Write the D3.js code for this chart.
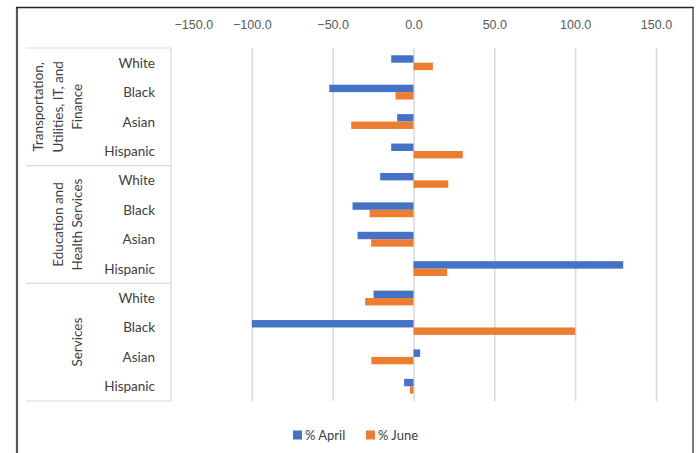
<!DOCTYPE html>
<html>
<head>
<meta charset="utf-8">
<script src="https://cdn.jsdelivr.net/npm/d3@7"></script>
<style>
  html, body { margin: 0; padding: 0; background: #fff; }
  svg { display: block; font-family: Lato, "Open Sans", sans-serif; }
</style>
</head>
<body>
<svg id="chart" width="697" height="453"></svg>
<script>
// Industry groups (each spans four race/ethnicity rows)
const industries = [
  ["Transportation,", "Utilities, IT, and", "Finance"],
  ["Education and", "Health Services"],
  ["Services"]
];
const races = ["White", "Black", "Asian", "Hispanic"];
const seriesNames = ["% April", "% June"];
// Percent change values, row order: industry by industry, races within
const aprilValues = [-13.8, -52.1, -10.1, -13.8, -20.6, -37.7, -34.6, 129.7, -24.7, -100.0, 4.1, -5.8];
const juneValues  = [12.0, -11.1, -38.5, 30.5, 21.5, -27.2, -26.2, 20.8, -29.9, 100.0, -26.0, -2.2];
const xTicks = [-150, -100, -50, 0, 50, 100, 150];

const colors = { "% April": "#4472C4", "% June": "#ED7D31" };

const svg = d3.select("#chart");
const W = 697, H = 453;

const plotLeft = 171, plotRight = 656, plotTop = 48, plotBottom = 401;
const catLeft = 26;

const rows = [];
industries.forEach((ind, gi) => {
  races.forEach((r, ri) => {
    const i = gi * races.length + ri;
    rows.push({ key: gi + "-" + r, industry: gi, race: r, april: aprilValues[i], june: juneValues[i] });
  });
});

const x = d3.scaleLinear().domain([-150, 150]).range([plotLeft, plotRight]);
const y = d3.scaleBand().domain(rows.map(d => d.key)).range([plotTop, plotBottom]).padding(0);
const barH = y.bandwidth() * 0.252;

// outer frame
svg.append("line").attr("x1", 17).attr("x2", 17).attr("y1", 7).attr("y2", H)
  .attr("stroke", "#595959").attr("stroke-width", 2.2);
svg.append("line").attr("x1", 16).attr("x2", 693.5).attr("y1", 7.5).attr("y2", 7.5)
  .attr("stroke", "#222").attr("stroke-width", 1.4);
svg.append("line").attr("x1", 693).attr("x2", 693).attr("y1", 7).attr("y2", H)
  .attr("stroke", "#222").attr("stroke-width", 1.2);

// vertical gridlines
const xAxis = d3.axisTop(x).tickValues(xTicks).tickSize(plotBottom - plotTop).tickFormat(d3.format(".1f"));
const gx = svg.append("g").attr("transform", `translate(0,${plotBottom})`).call(xAxis);
gx.select(".domain").remove();
gx.selectAll(".tick line").attr("stroke", "#d9d9d9").attr("stroke-width", 1.5)
  .attr("display", d => d === -150 ? "none" : null);
gx.selectAll(".tick text")
  .attr("y", 0).attr("dy", 0)
  .attr("transform", `translate(0,${25 - plotBottom})`)
  .attr("dominant-baseline", "central")
  .attr("fill", "#595959").attr("font-size", 12.5)
  .attr("text-anchor", d => d === -150 ? "start" : "middle")
  .attr("x", d => d === -150 ? 3 : 0);

// category label table
const gCat = svg.append("g");
gCat.append("line").attr("x1", plotLeft).attr("x2", plotLeft).attr("y1", plotTop).attr("y2", plotBottom)
  .attr("stroke", "#d9d9d9").attr("stroke-width", 1.2);
const groupBounds = industries.map((ind, gi) => ({
  top: y(gi + "-" + races[0]),
  bottom: y(gi + "-" + races[races.length - 1]) + y.bandwidth(),
  lines: ind
}));
const seps = [plotTop].concat(groupBounds.map(g => g.bottom));
gCat.selectAll("line.sep").data(seps).join("line").attr("class", "sep")
  .attr("x1", catLeft).attr("x2", plotLeft).attr("y1", d => d).attr("y2", d => d)
  .attr("stroke", "#d9d9d9").attr("stroke-width", 1.2);

gCat.selectAll("text.race").data(rows).join("text").attr("class", "race")
  .attr("x", 155).attr("y", d => y(d.key) + y.bandwidth() / 2)
  .attr("text-anchor", "end").attr("dominant-baseline", "central")
  .attr("fill", "#404040").attr("font-size", 13.5)
  .text(d => d.race);

const lineGap = 19.5, lastLineX = 77;
groupBounds.forEach(g => {
  const cy = (g.top + g.bottom) / 2;
  const n = g.lines.length;
  g.lines.forEach((t, li) => {
    const cx = lastLineX - (n - 1 - li) * lineGap;
    gCat.append("text")
      .attr("transform", `translate(${cx},${cy}) rotate(-90)`)
      .attr("text-anchor", "middle").attr("dominant-baseline", "central")
      .attr("fill", "#404040").attr("font-size", 13.5)
      .text(t);
  });
});

// bars
const gBars = svg.append("g");
const seriesDefs = [
  { name: seriesNames[0], get: d => d.april, offset: -barH },
  { name: seriesNames[1], get: d => d.june, offset: 0 }
];
seriesDefs.forEach(s => {
  gBars.selectAll(null).data(rows).join("rect")
    .attr("x", d => Math.min(x(0), x(s.get(d))))
    .attr("width", d => Math.abs(x(s.get(d)) - x(0)))
    .attr("y", d => y(d.key) + y.bandwidth() / 2 + s.offset)
    .attr("height", barH)
    .attr("fill", colors[s.name]);
});

// legend
const legend = svg.append("g").attr("transform", "translate(293,435)");
const legX = [0, 73];
seriesNames.forEach((n, i) => {
  const g = legend.append("g").attr("transform", `translate(${legX[i]},0)`);
  g.append("rect").attr("x", 0).attr("y", -4.5).attr("width", 9).attr("height", 9).attr("fill", colors[n]);
  g.append("text").attr("x", 12).attr("y", 0).attr("dominant-baseline", "central")
    .attr("fill", "#404040").attr("font-size", 13).text(n);
});
</script>
</body>
</html>
